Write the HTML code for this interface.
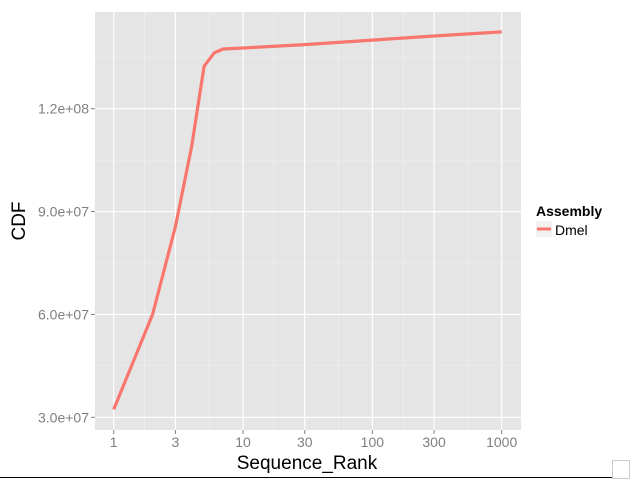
<!DOCTYPE html>
<html><head><meta charset="utf-8"><style>
html,body{margin:0;padding:0;background:#fff;width:630px;height:479px;overflow:hidden}
svg{display:block;font-family:"Liberation Sans",sans-serif}
</style></head><body>
<svg id="chart" width="630" height="479">
<rect x="0" y="0" width="630" height="479" fill="#fff"/>
<g id="grid"></g>
<g id="series"></g>
<g id="axes"></g>
<text x="307" y="469" text-anchor="middle" font-size="19" fill="#000">Sequence_Rank</text>
<text x="0" y="0" transform="translate(25,221) rotate(-90)" text-anchor="middle" font-size="19" fill="#000">CDF</text>
<g>
<text x="536" y="216" font-size="14" font-weight="bold" fill="#000">Assembly</text>
<rect x="536" y="221" width="16" height="16" fill="#f2f2f2"/>
<line x1="537" y1="229" x2="551" y2="229" stroke="#F8766D" stroke-width="3"/>
<text x="555" y="235" font-size="14" fill="#000">Dmel</text>
</g>
<line x1="0" y1="477.5" x2="612" y2="477.5" stroke="#000" stroke-width="1"/>
<rect x="612.5" y="460.5" width="17" height="18" fill="none" stroke="#ccc"/>
</svg>
<script>
const ranks=[1,2,3,4,5,6,7,10,30,100,300,1000];
const cdfValues=[3.23e7,6.0e7,8.56e7,1.089e8,1.324e8,1.363e8,1.374e8,1.377e8,1.387e8,1.400e8,1.412e8,1.424e8];
const xTicks=[1,3,10,30,100,300,1000];
const xTickLabels=["1","3","10","30","100","300","1000"];
const yTicks=[3e7,6e7,9e7,1.2e8];
const yTickLabels=["3.0e+07","6.0e+07","9.0e+07","1.2e+08"];
const NS="http://www.w3.org/2000/svg";
const P={l:95,r:521,t:12,b:430};
function xs(v){return 113.7+Math.log10(v)*129.33;}
function ys(v){return 417.3-(v-3e7)/3e7*102.87;}
function mk(tag,attrs,parent){const e=document.createElementNS(NS,tag);for(const k in attrs)e.setAttribute(k,attrs[k]);parent.appendChild(e);return e;}
const grid=document.getElementById('grid'),axes=document.getElementById('axes'),series=document.getElementById('series');
const bg=mk('rect',{x:P.l,y:P.t,width:P.r-P.l,height:P.b-P.t,fill:'#e5e5e5'},grid);


// minor grid
for(let i=0;i<xTicks.length-1;i++){const m=Math.sqrt(xTicks[i]*xTicks[i+1]);const x=xs(m);
const l=mk('line',{x1:x,x2:x,y1:P.t,y2:P.b,stroke:'#f2f2f2','stroke-width':0.6},grid);

}
const ymin=[1.5e7,4.5e7,7.5e7,1.05e8,1.35e8];
ymin.forEach(v=>{const y=ys(v);if(y<P.t||y>P.b)return;const l=mk('line',{x1:P.l,x2:P.r,y1:y,y2:y,stroke:'#f2f2f2','stroke-width':0.6},grid);

});
xTicks.forEach((v,i)=>{const x=xs(v);
const l=mk('line',{x1:x,x2:x,y1:P.t,y2:P.b,stroke:'#fff','stroke-width':1.2},grid);


const t=mk('line',{x1:x,x2:x,y1:P.b,y2:P.b+4,stroke:'#7f7f7f','stroke-width':1},axes);


const tx=mk('text',{x:x,y:P.b+17,'text-anchor':'middle','font-size':14,fill:'#7f7f7f'},axes);tx.textContent=xTickLabels[i];

});
yTicks.forEach((v,i)=>{const y=ys(v);
const l=mk('line',{x1:P.l,x2:P.r,y1:y,y2:y,stroke:'#fff','stroke-width':1.2},grid);


const t=mk('line',{x1:P.l-4,x2:P.l,y1:y,y2:y,stroke:'#7f7f7f','stroke-width':1},axes);


const tx=mk('text',{x:P.l-6,y:y+5,'text-anchor':'end','font-size':14,fill:'#7f7f7f'},axes);tx.textContent=yTickLabels[i];

});
const pts=ranks.map((r,i)=>xs(r).toFixed(1)+','+ys(cdfValues[i]).toFixed(1)).join(' ');
const pl=mk('polyline',{points:pts,fill:'none',stroke:'#F8766D','stroke-width':3.2,'stroke-linejoin':'round'},series);


</script>
</body></html>
